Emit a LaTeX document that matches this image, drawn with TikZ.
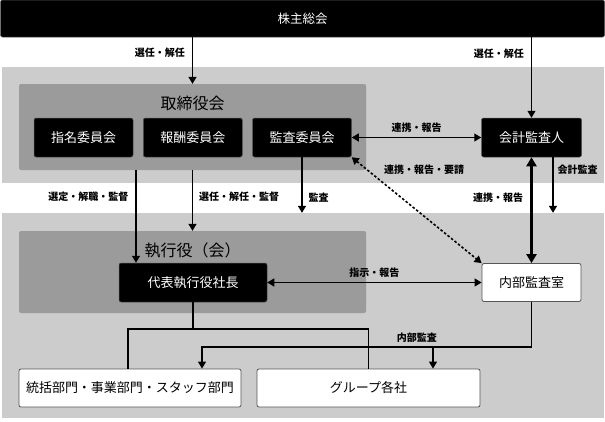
\documentclass[tikz,border=0pt]{standalone}
\usepackage{fontspec}
\setmainfont{Noto Sans CJK JP}
\usetikzlibrary{arrows.meta,positioning}

\definecolor{grisclaro}{RGB}{204,204,204}
\definecolor{grisoscuro}{RGB}{155,155,155}
\definecolor{borde}{RGB}{85,85,85}

\tikzset{
  estilo organigrama/.style={
      x=1pt, y=-1pt,
      node distance=109.25pt,
      panel/.style={fill=grisclaro, inner sep=0pt},
      bloque/.style={fill=grisoscuro, rounded corners=2pt, inner sep=0pt},
      caja negra/.style={fill=black, draw=borde, line width=.5pt, rounded corners=2pt, text=white,
          minimum height=39pt, inner sep=0pt, font={\fontsize{13}{15}\selectfont}},
      caja blanca/.style={fill=white, draw=borde, line width=.8pt, rounded corners=2pt,
          minimum height=38pt, inner sep=0pt, font={\fontsize{13}{15}\selectfont}},
      titulo/.style={font={\fontsize{16}{18}\selectfont}},
      etiqueta/.style={inner sep=1pt, font={\bfseries\fontsize{10}{12}\selectfont}},
      flecha/.style={line width=1.3pt, -{Triangle[length=7pt,width=8pt]}},
      doble/.style={line width=1.3pt, {Triangle[length=7pt,width=8pt]}-{Triangle[length=7pt,width=8pt]}},
      gruesa/.style={line width=3pt, {Triangle[length=9pt,width=10pt]}-{Triangle[length=9pt,width=10pt]}},
      punteada/.style={line width=1.6pt, dash pattern=on 2.5pt off 2pt,
          {Triangle[length=7pt,width=8pt]}-{Triangle[length=7pt,width=8pt]}},
      linea/.style={line width=1.3pt},
    },
}

\begin{document}
\begin{tikzpicture}[estilo organigrama]
            \useasboundingbox (0,0) rectangle (605,421);

            % fondos
            \node[panel, minimum width=602pt, minimum height=116pt] (panel sup) at (303,125) {};
            \node[panel, minimum width=602pt, minimum height=205pt] (panel inf) at (303,315.5) {};
            \node[bloque, minimum width=347pt, minimum height=86pt] (torishimari) at (192.5,127) {};
            \node[titulo] (titulo1) at (192.5,103) {取締役会};
            \node[bloque, minimum width=347pt, minimum height=82pt] (shikko) at (192.5,272) {};
            \node[titulo] (titulo2) at (192.5,250) {執行役（会）};

            % cajas
            \node[caja negra, minimum width=604pt, minimum height=37pt, font={\fontsize{12.5}{15}\selectfont}] (junta) at (302.5,18.5) {株主総会};
            \node[caja negra, minimum width=99pt] (shimei) at (83.5,137.5) {指名委員会};
            \node[caja negra, minimum width=99pt, right of=shimei] (hoshu) {報酬委員会};
            \node[caja negra, minimum width=99pt, right of=hoshu] (kansa) {監査委員会};
            \node[caja negra, minimum width=100pt] (kaikei) at (531.5,137.5) {会計監査人};
            \node[caja negra, minimum width=148pt] (daihyo) at (193,282.5) {代表執行役社長};
            \node[caja blanca, minimum width=99pt] (naibu) at (531.5,282.5) {内部監査室};
            \node[caja blanca, minimum width=222pt] (toukatsu) at (130,388) {統括部門・事業部門・スタッフ部門};
            \node[caja blanca, minimum width=223pt] (group) at (368.5,388) {グループ各社};

            % flechas
            \draw[flecha] (junta.south -| torishimari.north) -- node[etiqueta, pos=.34, left=6pt] (e1) {選任・解任} (torishimari.north);
            \draw[flecha] (junta.south -| kaikei.north) -- node[etiqueta, pos=.2, left=6pt] (e2) {選任・解任} (kaikei.north);
            \draw[doble] (kansa.east) -- node[etiqueta, above=3pt] (e3) {連携・報告} (kaikei.west);
            \draw[punteada] (kansa.south east) -- node[etiqueta, pos=.12, anchor=west, xshift=15pt] (e4) {連携・報告・要請} (naibu.north west);
            \draw[flecha] ([xshift=21.5pt]kaikei.south) -- node[etiqueta, pos=.22, right=3pt] (e5) {会計監査} ([xshift=21.5pt]kaikei.south |- panel inf.north);
            \draw[gruesa] (kaikei.south) -- node[etiqueta, pos=.38, left=6pt] (e6) {連携・報告} (naibu.north);
            \draw[flecha] ([xshift=-57pt]daihyo.north |- torishimari.south) -- node[etiqueta, pos=.29, left=6pt] (e7) {選定・解職・監督} ([xshift=-57pt]daihyo.north);
            \draw[flecha] (torishimari.south) -- node[etiqueta, pos=.44, right=5pt] (e8) {選任・解任・監督} (shikko.north);
            \draw[flecha] (kansa.south) -- node[etiqueta, pos=.72, right=5pt] (e9) {監査} (kansa.south |- panel inf.north);
            \draw[doble] (daihyo.east) -- node[etiqueta, above=3pt] (e10) {指示・報告} (naibu.west);

            % ramas
            \coordinate (rama) at (193,329);
            \draw[linea] (daihyo.south) -- (rama);
            \draw[linea] ([xshift=-2pt]toukatsu.north) |- (rama) -| (group.north);

            \coordinate (bus) at (433,347);
            \draw[flecha] (naibu.south) -- (naibu.south |- bus) -| node[etiqueta, pos=.174, above=3pt] (e11) {内部監査} ([xshift=72pt]toukatsu.north);
            \draw[flecha] (bus) -- (bus |- group.north);
          \end{tikzpicture}
\end{document}
